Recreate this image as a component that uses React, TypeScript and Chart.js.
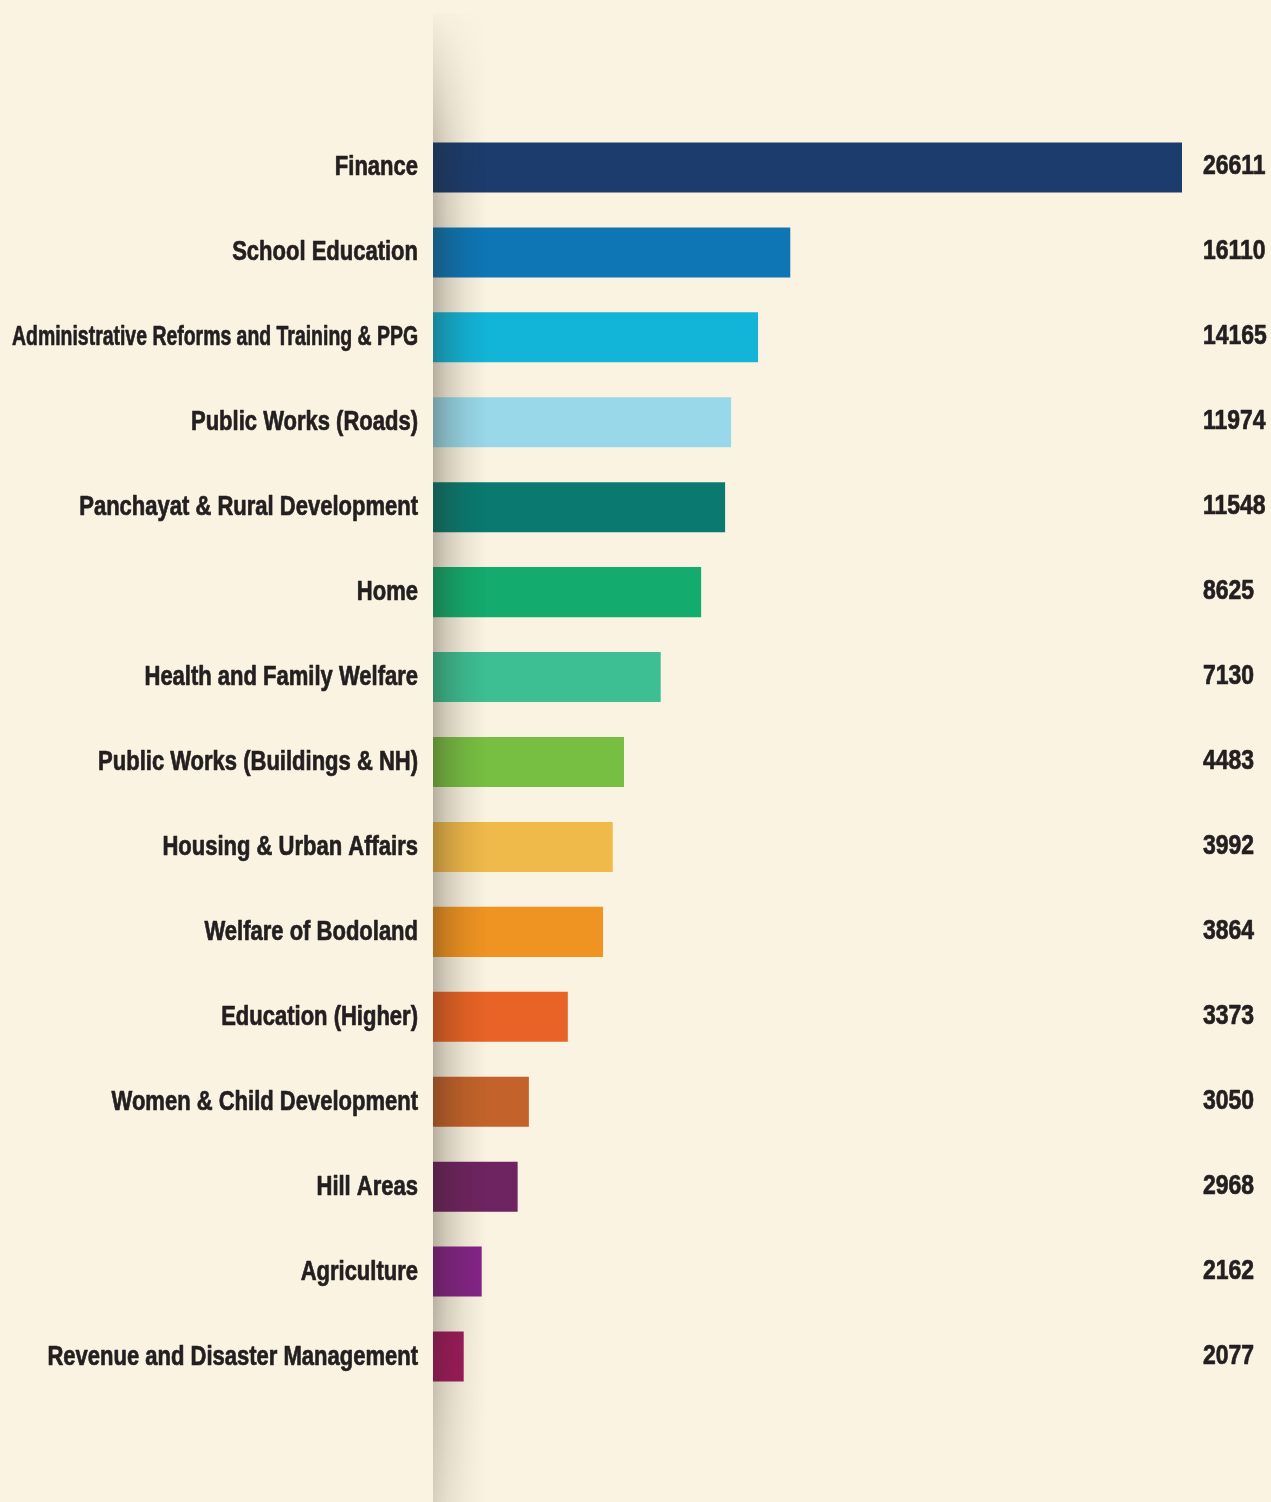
import React, { useEffect, useRef } from "react";
import { Chart, registerables } from "chart.js";

Chart.register(...registerables);

const categories = [
  "Finance",
  "School Education",
  "Administrative Reforms and Training & PPG",
  "Public Works (Roads)",
  "Panchayat & Rural Development",
  "Home",
  "Health and Family Welfare",
  "Public Works (Buildings & NH)",
  "Housing & Urban Affairs",
  "Welfare of Bodoland",
  "Education (Higher)",
  "Women & Child Development",
  "Hill Areas",
  "Agriculture",
  "Revenue and Disaster Management",
];

// printed values
const values = [26611, 16110, 14165, 11974, 11548, 8625, 7130, 4483, 3992, 3864, 3373, 3050, 2968, 2162, 2077];

// drawn bar lengths (% of the longest bar)
const barLengths = [100, 47.7, 43.4, 39.8, 39.0, 35.8, 30.4, 25.5, 24.0, 22.7, 18.0, 12.8, 11.3, 6.5, 4.1];

const colors = [
  "#1B3C6C",
  "#0E76B5",
  "#12B4D8",
  "#98D8E8",
  "#0A7A70",
  "#13AB6E",
  "#3DBF93",
  "#77BF43",
  "#F0BA4A",
  "#EF9422",
  "#E96326",
  "#C3632B",
  "#6E2460",
  "#842487",
  "#9E1B5C",
];

const BG = "#FAF3E1";
const TEXT = "#231F20";
const FONT = "'Liberation Sans', Arial, sans-serif";
const FONT_SIZE = 27;
const LABEL_SQUEEZE = 0.815; // horizontal condensing of the category text
const VALUE_SQUEEZE = 0.85; // horizontal condensing of the value text

export default function App() {
  const ref = useRef<HTMLCanvasElement | null>(null);

  useEffect(() => {
    document.body.style.margin = "0";
    document.body.style.background = BG;
    const canvas = ref.current;
    if (!canvas) return;

    const bgPlugin = {
      id: "bg",
      beforeDraw(chart: any) {
        const ctx = chart.ctx;
        ctx.save();
        ctx.fillStyle = BG;
        ctx.fillRect(0, 0, chart.width, chart.height);
        ctx.restore();
      },
    };

    const shadowPlugin = {
      id: "shadow",
      afterDatasetsDraw(chart: any) {
        const ctx = chart.ctx;
        const x0 = chart.chartArea.left;
        const w = 54;
        const y0 = 13;
        const h = chart.height - y0;
        const off = document.createElement("canvas");
        off.width = w;
        off.height = h;
        const o = off.getContext("2d")!;
        const g = o.createLinearGradient(0, 0, w, 0);
        g.addColorStop(0, "rgba(40,30,20,0.32)");
        g.addColorStop(0.25, "rgba(40,30,20,0.19)");
        g.addColorStop(0.6, "rgba(40,30,20,0.07)");
        g.addColorStop(1, "rgba(40,30,20,0)");
        o.fillStyle = g;
        o.fillRect(0, 0, w, h);
        o.globalCompositeOperation = "destination-in";
        const v = o.createLinearGradient(0, 0, 0, h);
        v.addColorStop(0, "rgba(0,0,0,0.05)");
        v.addColorStop(0.09, "rgba(0,0,0,0.8)");
        v.addColorStop(0.15, "rgba(0,0,0,1)");
        v.addColorStop(0.85, "rgba(0,0,0,1)");
        v.addColorStop(1, "rgba(0,0,0,0.5)");
        o.fillStyle = v;
        o.fillRect(0, 0, w, h);
        ctx.save();
        ctx.drawImage(off, x0, y0);
        ctx.restore();
      },
    };

    const textPlugin = {
      id: "texts",
      afterDraw(chart: any) {
        const ctx = chart.ctx;
        const yScale = chart.scales.y;
        const labelRight = chart.chartArea.left - 15;
        const maxLabelWidth = (labelRight - 12) / LABEL_SQUEEZE;
        ctx.save();
        ctx.font = `bold ${FONT_SIZE}px ${FONT}`;
        ctx.fillStyle = TEXT;
        ctx.strokeStyle = TEXT;
        ctx.lineWidth = 0.7;
        ctx.lineJoin = "round";
        ctx.textBaseline = "alphabetic";
        categories.forEach((label, i) => {
          const y = yScale.getPixelForValue(i);
          // category label, right-aligned left of the bars
          ctx.save();
          ctx.translate(labelRight, y + 8);
          ctx.scale(LABEL_SQUEEZE, 1);
          ctx.textAlign = "right";
          ctx.fillText(label, 0, 0, maxLabelWidth);
          ctx.strokeText(label, 0, 0, maxLabelWidth);
          ctx.restore();
          // value label on the right
          ctx.save();
          ctx.translate(chart.chartArea.right + 21, y + 7);
          ctx.scale(VALUE_SQUEEZE, 1);
          ctx.textAlign = "left";
          ctx.fillText(String(values[i]), 0, 0);
          ctx.strokeText(String(values[i]), 0, 0);
          ctx.restore();
        });
        ctx.restore();
      },
    };

    const chart = new Chart(canvas, {
      type: "bar",
      data: {
        labels: categories,
        datasets: [
          {
            data: barLengths,
            backgroundColor: colors,
            borderWidth: 0,
            barPercentage: 1,
            categoryPercentage: 0.589,
          },
        ],
      },
      options: {
        indexAxis: "y",
        responsive: false,
        animation: false,
        devicePixelRatio: 1,
        layout: { padding: { top: 125, bottom: 103, right: 89, left: 0 } },
        plugins: {
          legend: { display: false },
          tooltip: { enabled: false },
        },
        scales: {
          x: {
            display: false,
            min: 0,
            max: 100,
          },
          y: {
            grid: { display: false, drawTicks: false },
            border: { display: false },
            ticks: { display: false },
            afterFit(scale: any) {
              scale.width = 433;
            },
          },
        },
      },
      plugins: [bgPlugin, shadowPlugin, textPlugin],
    });

    return () => chart.destroy();
  }, []);

  return (
    <canvas
      ref={ref}
      width={1271}
      height={1502}
      style={{ display: "block", width: 1271, height: 1502 }}
    />
  );
}
